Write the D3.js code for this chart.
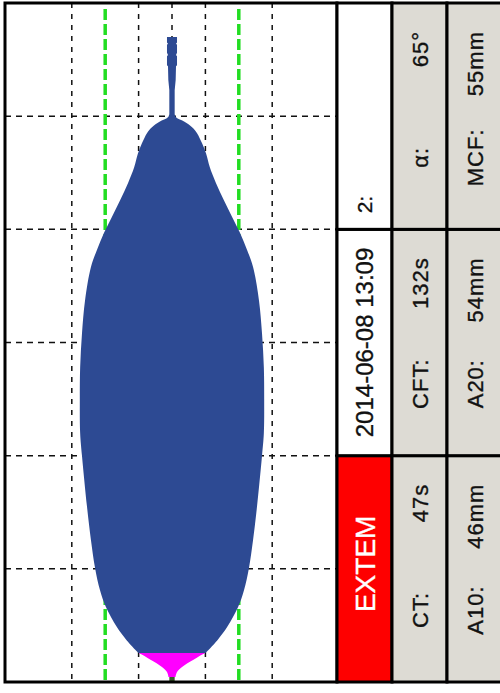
<!DOCTYPE html>
<html>
<head>
<meta charset="utf-8">
<script src="https://cdn.jsdelivr.net/npm/d3@7"></script>
<style>
body { margin: 0; background: #fff; }
text { font-family: "Liberation Sans", Arial, sans-serif; }
</style>
</head>
<body>
<script>
var width = 500;
var height = 693;

// trace, time in minutes, amplitude in mm
var preTime = [0, 0.44];
var preAmp = [1.6, 1.6];

var initTime = [0.44, 0.88, 1.33, 1.94, 2.3, 2.56];
var initAmp = [2.1, 3.0, 6.0, 12.6, 16.5, 20];

var clotTime = [2.56, 3.7, 4.9, 6.6, 8.1, 10.1, 12.5, 15.5, 20.0, 22.0, 25.0, 27.8, 30.8, 33.7,
                36.7, 38.2, 39.7, 41.1, 42.6, 44.1, 45.5, 46.7, 47.6, 48.5, 49.03, 49.5, 49.9, 50.2];
var clotAmp = [20, 27.2, 33.2, 39.5, 43.1, 46.1, 48.5, 50.9, 53.9, 55.0, 55.2, 55.0, 53.9, 52.1,
               48.5, 44.9, 40.7, 36, 31, 26.3, 22.6, 20.4, 18, 15, 12, 7.5, 2.4, 1.6];

var tailTime = [50.2, 52.3, 53.2, 54.4, 54.5, 55.3, 55.4, 55.6, 56.3, 56.4, 56.5, 57.0];
var tailAmp = [1.6, 1.6, 2.2, 2.4, 3.0, 3.0, 2.4, 3.0, 3.0, 2.4, 3.0, 3.0];

var gridTimes = [10, 20, 30, 40, 50];
var gridAmps = [-30, -10, 0, 10, 30];
var refAmps = [-20, 20];

// table
var testName = "EXTEM";
var testDate = "2014-06-08  13:09";
var channel = "2:";
var leftLabels = ["CT:", "CFT:", "α:"];
var leftValues = ["47s", "132s", "65°"];
var rightLabels = ["A10:", "A20:", "MCF:"];
var rightValues = ["46mm", "54mm", "55mm"];

var svg = d3.select("body")
            .append("svg")
            .attr("width", width)
            .attr("height", height);

var chart = {left: 5, right: 337, top: 3, bottom: 682};

// half amplitude on x, time going up
var x = d3.scaleLinear().domain([-50, 50]).range([5, 339]);
var y = d3.scaleLinear().domain([0, 60]).range([682, 3]);

var g = svg.append("g");

//grid
g.selectAll(".hgrid")
  .data(gridTimes)
  .enter().append("line")
  .attr("x1", chart.left).attr("x2", chart.right)
  .attr("y1", function(d) { return y(d); })
  .attr("y2", function(d) { return y(d); })
  .attr("stroke", "#111")
  .attr("stroke-width", 1.5)
  .attr("stroke-dasharray", "6,5");

g.selectAll(".vgrid")
  .data(gridAmps)
  .enter().append("line")
  .attr("x1", function(d) { return x(d); })
  .attr("x2", function(d) { return x(d); })
  .attr("y1", chart.top).attr("y2", chart.bottom)
  .attr("stroke", "#111")
  .attr("stroke-width", 1.5)
  .attr("stroke-dasharray", "5,6");

g.selectAll(".ref")
  .data(refAmps)
  .enter().append("line")
  .attr("x1", function(d) { return x(d); })
  .attr("x2", function(d) { return x(d); })
  .attr("y1", chart.top + 6).attr("y2", chart.bottom)
  .attr("stroke", "#22dd22")
  .attr("stroke-width", 3.5)
  .attr("stroke-dasharray", "11,4");

function pts(ts, as) {
  return ts.map(function(t, i) { return {t: t, a: as[i]}; });
}

function area(curve) {
  return d3.area()
    .y(function(d) { return y(d.t); })
    .x0(function(d) { return x(-d.a / 2); })
    .x1(function(d) { return x(d.a / 2); })
    .curve(curve);
}

g.append("path")
  .datum(pts(preTime, preAmp))
  .attr("d", area(d3.curveLinear))
  .attr("fill", "#3a5f2a");

g.append("path")
  .datum(pts(initTime, initAmp))
  .attr("d", area(d3.curveCatmullRom))
  .attr("fill", "#ff00ff");

g.append("path")
  .datum(pts(clotTime, clotAmp))
  .attr("d", area(d3.curveCatmullRom))
  .attr("fill", "#2d4a93");

g.append("path")
  .datum(pts(tailTime, tailAmp))
  .attr("d", area(d3.curveLinear))
  .attr("fill", "#2d4a93");

//chart frame
g.append("rect")
  .attr("x", chart.left).attr("y", chart.top)
  .attr("width", chart.right - chart.left)
  .attr("height", chart.bottom - chart.top)
  .attr("fill", "none")
  .attr("stroke", "#000")
  .attr("stroke-width", 3);

//table
var col = d3.scaleBand().domain([0, 1, 2]).range([337, 502]);
var row = d3.scaleBand().domain([2, 1, 0]).range([3, 682]);

var cells = [];
[0, 1, 2].forEach(function(c) {
  [0, 1, 2].forEach(function(r) { cells.push({c: c, r: r}); });
});

var t = svg.append("g");

t.selectAll("rect")
  .data(cells)
  .enter().append("rect")
  .attr("x", function(d) { return col(d.c); })
  .attr("y", function(d) { return row(d.r); })
  .attr("width", col.bandwidth())
  .attr("height", row.bandwidth())
  .attr("fill", function(d) {
    if (d.c == 0) return d.r == 0 ? "#fe0000" : "#fff";
    return "#dddbd4";
  })
  .attr("stroke", "#000")
  .attr("stroke-width", 3);

function vtext(cx, cy, str, anchor, size, fill, spacing) {
  fill = fill || "#111";
  t.append("text")
    .attr("transform", "translate(" + cx + "," + cy + ") rotate(-90)")
    .attr("text-anchor", anchor)
    .attr("dy", "0.36em")
    .attr("font-size", size)
    .attr("letter-spacing", spacing || 0)
    .attr("fill", fill)
    .attr("stroke", fill)
    .attr("stroke-width", 0.35)
    .text(str);
}

var c0 = col(0) + col.bandwidth() / 2;
vtext(c0, row(0) + row.bandwidth() / 2 - 5, testName, "middle", 28, "#fff");
vtext(c0, row(1) + row.bandwidth() / 2, testDate, "middle", 24);
vtext(c0, row(2) + row.bandwidth() - 16, channel, "start", 21);

[[leftLabels, leftValues], [rightLabels, rightValues]].forEach(function(pair, k) {
  var cx = col(k + 1) + col.bandwidth() / 2 + 1;
  pair[0].forEach(function(lab, r) {
    var top = row(r), bottom = row(r) + row.bandwidth();
    vtext(cx, bottom - 72, lab, "middle", 22, null, 1);
    vtext(cx, top + 28, pair[1][r], "end", 22, null, 1);
  });
});
</script>
</body>
</html>
